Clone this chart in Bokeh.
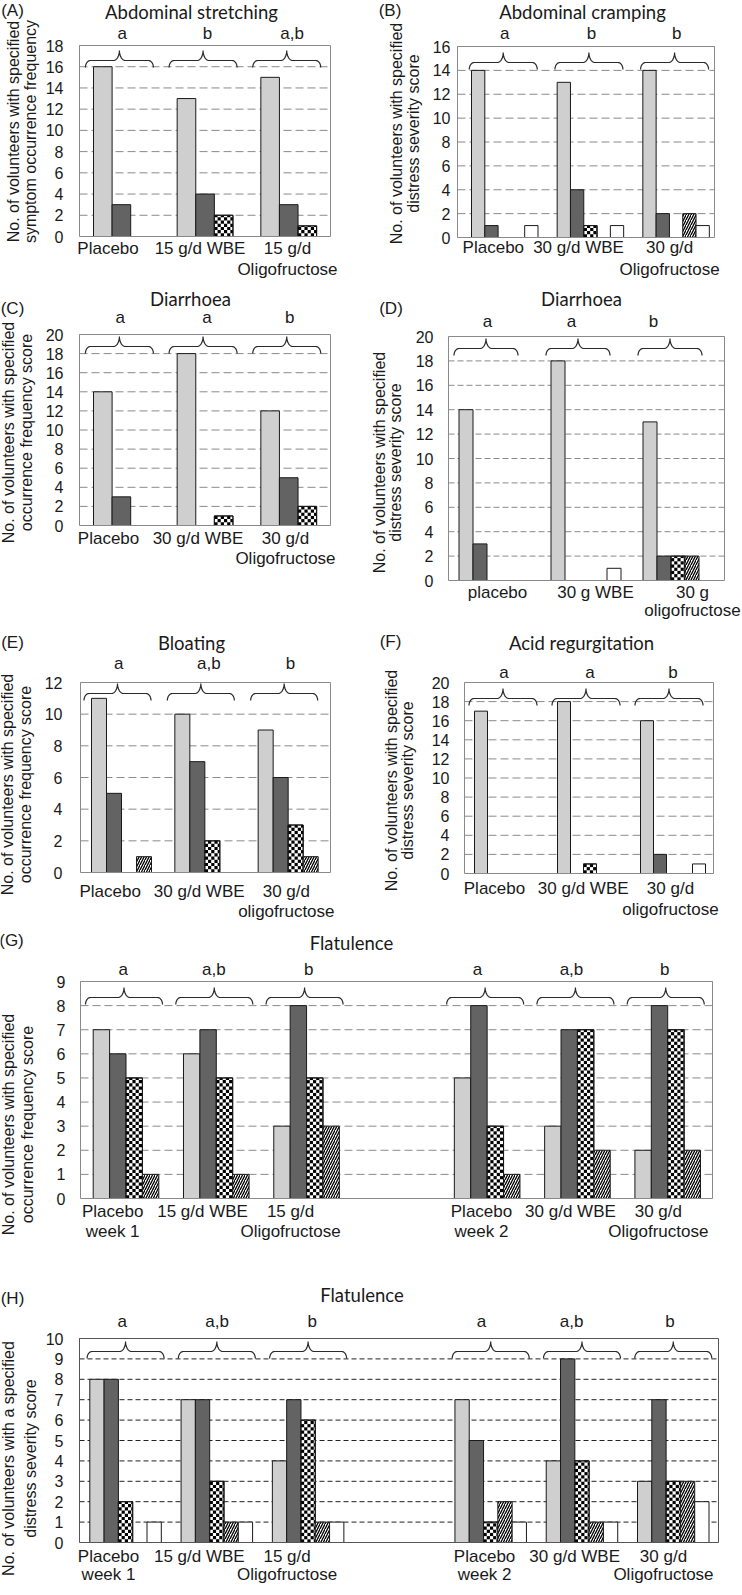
import math
from bokeh.plotting import figure
from bokeh.models import Range1d
from bokeh.core.properties import value
from bokeh.layouts import column, row
from bokeh.embed import file_html
from bokeh.resources import INLINE

# ---------------- data ----------------
A_categories = ["Placebo", "15 g/d WBE", "15 g/d\nOligofructose"]
A_letters = ["a", "b", "a,b"]
A_score0 = [16, 13, 15]
A_score1 = [3, 4, 3]
A_score2 = [0, 2, 1]

B_categories = ["Placebo", "30 g/d WBE", "30 g/d\nOligofructose"]
B_letters = ["a", "b", "b"]
B_score0 = [14, 13, 14]
B_score1 = [1, 4, 2]
B_score2 = [0, 1, 0]
B_score3 = [0, 0, 2]
B_score4 = [1, 1, 1]

C_categories = ["Placebo", "30 g/d WBE", "30 g/d\nOligofructose"]
C_letters = ["a", "a", "b"]
C_score0 = [14, 18, 12]
C_score1 = [3, 0, 5]
C_score2 = [0, 1, 2]

D_categories = ["placebo", "30 g WBE", "30 g\noligofructose"]
D_letters = ["a", "a", "b"]
D_score0 = [14, 18, 13]
D_score1 = [3, 0, 2]
D_score2 = [0, 0, 2]
D_score3 = [0, 0, 2]
D_score4 = [0, 1, 0]

E_categories = ["Placebo", "30 g/d WBE", "30 g/d\noligofructose"]
E_letters = ["a", "a,b", "b"]
E_score0 = [11, 10, 9]
E_score1 = [5, 7, 6]
E_score2 = [0, 2, 3]
E_score3 = [1, 0, 1]

F_categories = ["Placebo", "30 g/d WBE", "30 g/d\noligofructose"]
F_letters = ["a", "a", "b"]
F_score0 = [17, 18, 16]
F_score1 = [0, 0, 2]
F_score2 = [0, 1, 0]
F_score3 = [0, 0, 0]
F_score4 = [0, 0, 1]

G_categories = ["Placebo\nweek 1", "15 g/d WBE", "15 g/d\nOligofructose",
                "Placebo\nweek 2", "30 g/d WBE", "30 g/d\nOligofructose"]
G_letters = ["a", "a,b", "b", "a", "a,b", "b"]
G_score0 = [7, 6, 3, 5, 3, 2]
G_score1 = [6, 7, 8, 8, 7, 8]
G_score2 = [5, 5, 5, 3, 7, 7]
G_score3 = [1, 1, 3, 1, 2, 2]

H_categories = ["Placebo\nweek 1", "15 g/d WBE", "15 g/d\nOligofructose",
                "Placebo\nweek 2", "30 g/d WBE", "30 g/d\nOligofructose"]
H_letters = ["a", "a,b", "b", "a", "a,b", "b"]
H_score0 = [8, 7, 4, 7, 4, 3]
H_score1 = [8, 7, 7, 5, 9, 7]
H_score2 = [2, 3, 6, 1, 4, 3]
H_score3 = [0, 1, 1, 2, 1, 3]
H_score4 = [1, 1, 1, 1, 1, 2]

TITLES = {"A": "Abdominal stretching", "B": "Abdominal cramping", "C": "Diarrhoea",
          "D": "Diarrhoea", "E": "Bloating", "F": "Acid regurgitation",
          "G": "Flatulence", "H": "Flatulence"}
YLABELS = {
    "A": ["No. of volunteers with specified", "symptom occurrence frequency"],
    "B": ["No. of volunteers with specified", "distress severity score"],
    "C": ["No. of volunteers with specified", "occurrence frequency score"],
    "D": ["No. of volunteers with specified", "distress severity score"],
    "E": ["No. of volunteers with specified", "occurrence frequency score"],
    "F": ["No. of volunteers with specified", "distress severity score"],
    "G": ["No. of volunteers with specified", "occurrence frequency score"],
    "H": ["No. of volunteers with a specified", "distress severity score"],
}

# ---------------- styles / layout ----------------
SERIES_STYLE = [
    dict(fill_color="#cfcfcf"),
    dict(fill_color="#636363"),
    dict(fill_color="white"),              # checkered (cells added below)
    dict(fill_color="white", hatch_pattern="/", hatch_color="black",
         hatch_scale=5, hatch_weight=1.3),
    dict(fill_color="white"),
]
CHECK_SERIES = 2
CELL_PX = 3.2

GRAY = "#8a8a8a"
TXT = "#1a1a1a"
FONT = "Liberation Sans"

LAYOUT = {
    "A": dict(fig=(0, 0, 371, 285), frame=(79, 45, 330, 236), ngroups=3, slots=[0, 1, 2],
              ymax=18, ystep=2, bar_off=14, bar_w=18.6, brace_w=68, brace_dx=-2, brace_p=5,
              standoff=16, grid_dash="8 4", grid_color=GRAY, outline=GRAY,
              title_xy=(191, 11), panel_xy=(12, 10), letters_y=33, letters_dx=[1, 2.5, 3.5],
              xlab_y=248, xlab_gap=21, xlab_dx=[-13.3, -5, -1.2], ylab_x=(13, 30), ylab_y=131),
    "B": dict(fig=(371, 0, 371, 285), frame=(457, 46, 714, 237), ngroups=3, slots=[0, 1, 2],
              ymax=16, ystep=2, bar_off=14, bar_w=13.3, brace_w=68, brace_dx=-1.5, brace_p=6,
              standoff=7, grid_dash="8 4", grid_color=GRAY, outline=GRAY,
              title_xy=(582, 11), panel_xy=(389.5, 10), letters_y=33, letters_dx=[4.5, 5.5, 5],
              xlab_y=247, xlab_gap=22, xlab_dx=[-7, -7.5, -2], ylab_x=(396, 413), ylab_y=133),
    "C": dict(fig=(0, 285, 371, 335), frame=(79, 334, 330, 525), ngroups=3, slots=[0, 1, 2],
              ymax=20, ystep=2, bar_off=14, bar_w=18.6, brace_w=68, brace_dx=-2, brace_p=2,
              standoff=16, grid_dash="8 4", grid_color=GRAY, outline=GRAY,
              title_xy=(190, 298), panel_xy=(12, 308), letters_y=317, letters_dx=[-1, 2, 1],
              xlab_y=538, xlab_gap=20, xlab_dx=[-12.8, -7, -3.2], ylab_x=(8, 26), ylab_y=432),
    "D": dict(fig=(371, 285, 371, 335), frame=(448, 336, 724, 580), ngroups=3, slots=[0, 1, 2],
              ymax=20, ystep=2, bar_off=10.5, bar_w=14, brace_w=64, brace_dx=-8, brace_p=2,
              standoff=15, grid_dash="6 3", grid_color=GRAY, outline=GRAY,
              title_xy=(581, 298), panel_xy=(390.5, 308), letters_y=321, letters_dx=[-7, -15, -25],
              xlab_y=592, xlab_gap=18, xlab_dx=[3, 9, 14], ylab_x=(379, 395), ylab_y=462),
    "E": dict(fig=(0, 620, 371, 305), frame=(80, 682, 330, 872), ngroups=3, slots=[0, 1, 2],
              ymax=12, ystep=2, bar_off=11, bar_w=15, brace_w=67, brace_dx=-4, brace_p=1,
              standoff=18, grid_dash="8 4", grid_color=GRAY, outline=GRAY,
              title_xy=(191, 642), panel_xy=(12, 642), letters_y=663, letters_dx=[-3.4, 3.3, 1.7],
              xlab_y=891, xlab_gap=20, xlab_dx=[-12, -6.3, -2.5], ylab_x=(7, 25), ylab_y=784),
    "F": dict(fig=(371, 620, 371, 305), frame=(464, 682, 713, 873), ngroups=3, slots=[0, 1, 2],
              ymax=20, ystep=2, bar_off=10, bar_w=13, brace_w=68, brace_dx=-4, brace_p=6,
              standoff=15, grid_dash="8 4", grid_color=GRAY, outline=GRAY,
              title_xy=(581, 642), panel_xy=(390, 641), letters_y=672, letters_dx=[-2, 1, 1],
              xlab_y=888, xlab_gap=21, xlab_dx=[-11.5, -5.8, -1.5], ylab_x=(391, 407), ylab_y=780),
    "G": dict(fig=(0, 925, 742, 339), frame=(80, 981, 712, 1198), ngroups=7, slots=[0, 1, 2, 4, 5, 6],
              ymax=9, ystep=1, bar_off=12.7, bar_w=16.4, brace_w=77, brace_dx=-2, brace_p=6,
              standoff=15, grid_dash="8 4", grid_color=GRAY, outline=GRAY,
              title_xy=(351, 942), panel_xy=(11, 940), letters_y=969,
              letters_dx=[-2.4, -2.1, 2.6, -9.3, -5.6, -2.6],
              xlab_y=1211, xlab_gap=20, xlab_dx=[-13, -13.4, -15.7, -5.3, -6.6, -9],
              ylab_x=(8, 27), ylab_y=1124),
    "H": dict(fig=(0, 1264, 742, 323), frame=(79, 1338, 718, 1542), ngroups=7, slots=[0, 1, 2, 4, 5, 6],
              ymax=10, ystep=1, bar_off=10.3, bar_w=14.3, brace_w=77, brace_dx=0, brace_p=3,
              standoff=16, grid_dash="5 3", grid_color="#222222", outline="#555555",
              title_xy=(361.5, 1294), panel_xy=(12, 1298), letters_y=1321,
              letters_dx=[-3, 0.6, 4.4, -8.7, -9.9, -2.8],
              xlab_y=1556, xlab_gap=18, xlab_dx=[-16.6, -17.1, -20.6, -5.7, -6.9, -9.4],
              ylab_x=(8, 30), ylab_y=1458),
}


def build(key, cats, letters, series):
    L = LAYOUT[key]
    fx, fy, fw, fh = L["fig"]
    fl, ft, fr, fb = L["frame"]
    ng, ymax = L["ngroups"], L["ymax"]
    gw = (fr - fl) / ng            # px per category unit
    pyu = (fb - ft) / ymax         # px per value unit

    def dx(X):
        return (X - fl) / gw

    def dy(Y):
        return ymax - (Y - ft) / pyu

    p = figure(width=fw, height=fh,
               x_range=Range1d(dx(fx), dx(fx + fw)),
               y_range=Range1d(dy(fy + fh), dy(fy)),
               output_backend="svg", toolbar_location=None,
               x_axis_location=None, y_axis_location=None,
               min_border=0, outline_line_color=None)
    p.grid.visible = False
    p.background_fill_color = "white"
    p.border_fill_color = "white"

    # gridlines at the value ticks
    ticks = list(range(0, ymax + 1, L["ystep"]))
    gt = ticks[1:]
    p.segment(x0=[0] * len(gt), x1=[ng] * len(gt), y0=gt, y1=gt,
              line_color=L["grid_color"], line_dash=L["grid_dash"], line_width=1)

    # bars
    nser = len(series)
    bw = L["bar_w"] / gw
    cwx, cwy = CELL_PX / gw, CELL_PX / pyu
    cells = dict(left=[], right=[], bottom=[], top=[])
    for i, vals in enumerate(series):
        xs, tops = [], []
        for j, v in enumerate(vals):
            if v > 0:
                xc = L["slots"][j] + (L["bar_off"] + (i + 0.5) * L["bar_w"]) / gw
                xs.append(xc)
                tops.append(v)
                if i == CHECK_SERIES:
                    x0 = xc - bw / 2
                    ncol = int(math.ceil(bw / cwx - 1e-6))
                    nrow = int(math.ceil(v / cwy - 1e-6))
                    for a in range(ncol):
                        for b in range(nrow):
                            if (a + b) % 2 == 0:
                                cells["left"].append(x0 + a * cwx)
                                cells["right"].append(min(x0 + (a + 1) * cwx, x0 + bw))
                                cells["bottom"].append(b * cwy)
                                cells["top"].append(min((b + 1) * cwy, v))
        if xs:
            p.vbar(x=xs, top=tops, bottom=0, width=bw,
                   line_color="#1a1a1a", line_width=1, **SERIES_STYLE[i])
            if i == CHECK_SERIES:
                p.quad(fill_color="black", line_color=None, **cells)
                p.vbar(x=xs, top=tops, bottom=0, width=bw, fill_color=None,
                       line_color="#1a1a1a", line_width=1)

    # plot frame outline
    p.quad(left=[0], right=[ng], bottom=[0], top=[ymax], fill_color=None,
           line_color=L["outline"], line_width=1)

    # braces
    N = 10
    bx, by = [], []
    for s in L["slots"]:
        cx = fl + s * gw + L["bar_off"] + nser * L["bar_w"] / 2 + L["brace_dx"]
        half = L["brace_w"] / 2
        xl, xr = cx - half, cx + half
        yp = ft + L["brace_p"]
        yh = yp + 10
        ye = yp + 17
        re, rm = 5.0, 6.0
        pts = []
        for k in range(N + 1):
            t = k / N * math.pi / 2
            pts.append((xl + re - re * math.cos(t), ye - (ye - yh) * math.sin(t)))
        for k in range(N + 1):
            t = k / N * math.pi / 2
            pts.append((cx - rm + rm * math.sin(t), yp + (yh - yp) * math.cos(t)))
        for k in range(N + 1):
            t = k / N * math.pi / 2
            pts.append((cx + rm - rm * math.cos(t), yp + (yh - yp) * math.sin(t)))
        for k in range(N + 1):
            t = k / N * math.pi / 2
            pts.append((xr - re + re * math.sin(t), ye - (ye - yh) * math.cos(t)))
        bx.append([dx(X) for X, Y in pts])
        by.append([dy(Y) for X, Y in pts])
    p.multi_line(bx, by, line_color="#2a2a2a", line_width=1.2)

    def txt(xs, ys, texts, font=FONT, size="17px", align="center", angle=0.0):
        p.text(x=xs, y=ys, text=texts, text_font=value(font), text_font_size=value(size),
               text_color=TXT, text_align=align, text_baseline="middle", angle=angle)

    # y tick labels
    txt([dx(fl - L["standoff"])] * len(ticks), ticks, [str(t) for t in ticks],
        size="16px", align="right")

    # title and panel label
    txt([dx(L["title_xy"][0])], [dy(L["title_xy"][1])], [TITLES[key]], font="Lato", size="18.5px")
    txt([dx(L["panel_xy"][0])], [dy(L["panel_xy"][1])], ["(" + key + ")"])

    # significance letters and category labels
    lx, ly, lt = [], [], []
    cx_, cy_, ct = [], [], []
    for j, s in enumerate(L["slots"]):
        gc = fl + (s + 0.5) * gw
        lx.append(dx(gc + L["letters_dx"][j]))
        ly.append(dy(L["letters_y"]))
        lt.append(letters[j])
        for k, line in enumerate(cats[j].split("\n")):
            cx_.append(dx(gc + L["xlab_dx"][j]))
            cy_.append(dy(L["xlab_y"] + k * L["xlab_gap"]))
            ct.append(line)
    txt(lx, ly, lt)
    txt(cx_, cy_, ct)

    # y-axis title, two rotated lines
    yl = YLABELS[key]
    txt([dx(L["ylab_x"][0]), dx(L["ylab_x"][1])], [dy(L["ylab_y"])] * 2, yl,
        size="16px", angle=math.pi / 2)
    return p


pA = build("A", A_categories, A_letters, [A_score0, A_score1, A_score2])
pB = build("B", B_categories, B_letters, [B_score0, B_score1, B_score2, B_score3, B_score4])
pC = build("C", C_categories, C_letters, [C_score0, C_score1, C_score2])
pD = build("D", D_categories, D_letters, [D_score0, D_score1, D_score2, D_score3, D_score4])
pE = build("E", E_categories, E_letters, [E_score0, E_score1, E_score2, E_score3])
pF = build("F", F_categories, F_letters, [F_score0, F_score1, F_score2, F_score3, F_score4])
pG = build("G", G_categories, G_letters, [G_score0, G_score1, G_score2, G_score3])
pH = build("H", H_categories, H_letters, [H_score0, H_score1, H_score2, H_score3, H_score4])

root = column(row(pA, pB, spacing=0), row(pC, pD, spacing=0), row(pE, pF, spacing=0),
              pG, pH, spacing=0)

open("out.html", "w").write(file_html(root, INLINE))
